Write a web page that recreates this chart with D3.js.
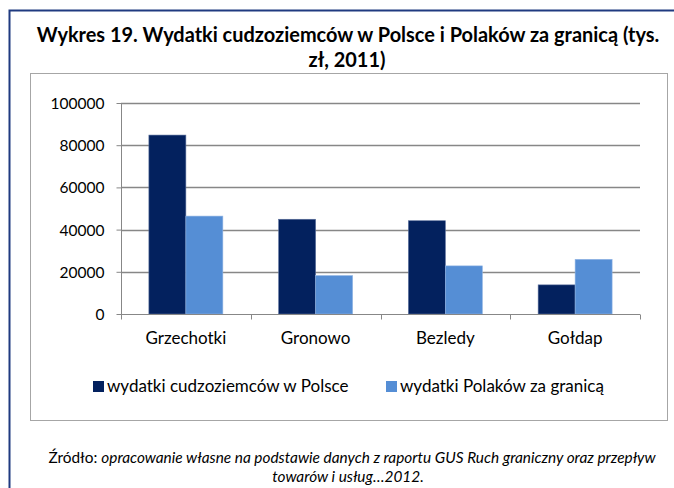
<!DOCTYPE html>
<html><head><meta charset="utf-8">
<script src="https://cdn.jsdelivr.net/npm/d3@7"></script>
<style>
html,body{margin:0;padding:0;background:#fff;}
svg{display:block;font-family:Lato,"Open Sans",sans-serif;}
</style></head>
<body>
<svg id="c" width="674" height="488"></svg>
<script>
const categories = ["Grzechotki", "Gronowo", "Bezledy", "Gołdap"];
const seriesNames = ["wydatki cudzoziemców w Polsce", "wydatki Polaków za granicą"];
const foreignersInPoland = [84800, 44900, 44200, 13800];
const polesAbroad = [46400, 18200, 22800, 25900];
const yTicks = [0, 20000, 40000, 60000, 80000, 100000];
const titleLines = ["Wykres 19. Wydatki cudzoziemców w Polsce i Polaków za granicą (tys.", "zł, 2011)"];
const sourceLabel = "Źródło: ";
const sourceLines = ["opracowanie własne na podstawie danych z raportu GUS Ruch graniczny oraz przepływ", "towarów i usług…2012."];

const colors = ["#03215e", "#558ed5"];
const svg = d3.select("#c");

function fit(sel, target) {
  const w = sel.node().getComputedTextLength();
  const fs = parseFloat(sel.attr("font-size"));
  const nf = fs * target / w;
  sel.attr("font-size", nf);
  return nf;
}

// outer blue frame
svg.append("rect").attr("x", 9.5).attr("y", 10.5).attr("width", 700).attr("height", 500)
  .attr("fill", "none").attr("stroke", "#1f3a80").attr("stroke-width", 2);

// title
const t1 = svg.append("text").attr("x", 348).attr("y", 42).attr("text-anchor", "middle")
  .attr("font-weight", "bold").attr("font-size", 17).attr("fill", "#000").text(titleLines[0]);
const tfs = fit(t1, 623);
svg.append("text").attr("x", 347).attr("y", 67).attr("text-anchor", "middle")
  .attr("font-weight", "bold").attr("font-size", tfs).attr("fill", "#000").text(titleLines[1]);

// inner chart box
svg.append("rect").attr("x", 30.5).attr("y", 73.5).attr("width", 637).attr("height", 347)
  .attr("fill", "#fff").attr("stroke", "#a6a6a6").attr("stroke-width", 1);

const x0 = d3.scaleBand().domain(categories).range([121, 640]).paddingInner(0.43).paddingOuter(0.215);
const x1 = d3.scaleBand().domain([0, 1]).range([0, x0.bandwidth()]);
const y = d3.scaleLinear().domain([0, 100000]).range([314, 103]);
const xOuter = d3.scaleBand().domain(categories).range([121, 640]);

// gridlines
svg.append("g").selectAll("line").data(yTicks.filter(d => d > 0)).join("line")
  .attr("x1", 121).attr("x2", 640).attr("y1", d => Math.round(y(d)) + 0.5).attr("y2", d => Math.round(y(d)) + 0.5)
  .attr("stroke", "#878787").attr("stroke-width", 1.3);

// bars
const series = [foreignersInPoland, polesAbroad];
const g = svg.append("g");
categories.forEach((c, i) => {
  series.forEach((s, k) => {
    g.append("rect")
      .attr("x", x0(c) + x1(k)).attr("width", x1.bandwidth())
      .attr("y", y(s[i])).attr("height", y(0) - y(s[i]))
      .attr("fill", colors[k]).attr("stroke", k === 0 ? "#5a6f9c" : "#8fb3e3").attr("stroke-width", 0.6);
  });
});

// y axis
const yAxis = d3.axisLeft(y).tickValues(yTicks).tickSize(5).tickPadding(12).tickFormat(d3.format("d"));
const ya = svg.append("g").attr("transform", "translate(121.5,0)").call(yAxis);
ya.select(".domain").attr("stroke", "#878787").attr("d", "M0," + y(100000) + "V" + y(0));
ya.selectAll(".tick line").attr("stroke", "#878787").attr("x1", -5).attr("x2", 0);
ya.selectAll(".tick text").attr("font-family", "Lato,'Open Sans',sans-serif").attr("fill", "#000").attr("font-size", 15.5);
const ytxt = ya.selectAll(".tick text").filter(d => d === 100000);
const yfs = fit(ytxt, 54);
ya.selectAll(".tick text").attr("font-size", yfs).attr("dy", "0.36em");

// x axis
const xAxis = d3.axisBottom(xOuter).tickSize(0).tickPadding(0);
const xa = svg.append("g").attr("transform", "translate(0," + (y(0) + 0.5) + ")").call(xAxis);
xa.select(".domain").attr("stroke", "#878787").attr("d", "M121,0H640");
xa.selectAll(".tick line").remove();
const bounds = [121, 640].concat(categories.map(c => xOuter(c)));
xa.append("g").selectAll("line").data(categories.map(c => xOuter(c)).concat([640])).join("line")
  .attr("x1", d => Math.round(d) + 0.5).attr("x2", d => Math.round(d) + 0.5).attr("y1", 0).attr("y2", 5)
  .attr("stroke", "#878787");
xa.selectAll(".tick text").attr("font-family", "Lato,'Open Sans',sans-serif").attr("fill", "#000")
  .attr("font-size", 15).attr("y", 29).attr("dy", 0);
const gtxt = xa.selectAll(".tick text").filter(d => d === "Grzechotki");
const xfs = fit(gtxt, 81);
xa.selectAll(".tick text").attr("font-size", xfs);

// legend
const legX = [93, 386];
const leg = svg.append("g");
seriesNames.forEach((n, k) => {
  leg.append("rect").attr("x", legX[k]).attr("y", 381).attr("width", 11).attr("height", 11).attr("fill", colors[k]);
  const tt = leg.append("text").attr("x", legX[k] + 14).attr("y", 392).attr("font-size", xfs).attr("fill", "#000").text(n);
});

// source note
const s1 = svg.append("text").attr("x", 352).attr("y", 463).attr("text-anchor", "middle")
  .attr("font-size", 13).attr("fill", "#000");
s1.append("tspan").text(sourceLabel);
s1.append("tspan").attr("font-style", "italic").text(sourceLines[0]);
const sfs = fit(s1, 608);
svg.append("text").attr("x", 348).attr("y", 482).attr("text-anchor", "middle")
  .attr("font-size", sfs).attr("font-style", "italic").attr("fill", "#000").text(sourceLines[1]);
</script>
</body></html>
